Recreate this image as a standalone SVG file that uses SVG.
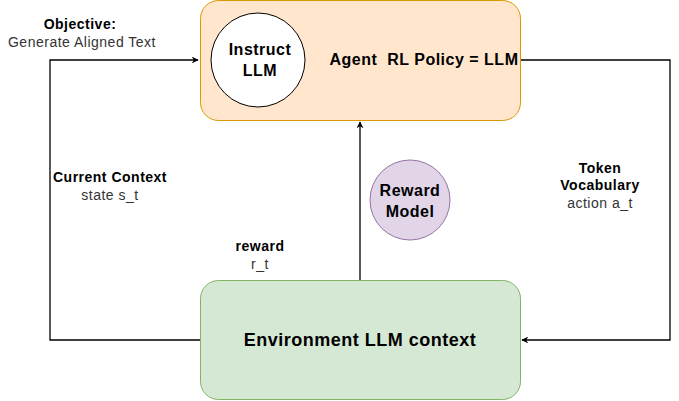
<svg xmlns="http://www.w3.org/2000/svg" width="679" height="401" viewBox="0 0 679 401">
<defs>
<marker id="arr" viewBox="0 0 10 10" refX="9" refY="5" markerWidth="7" markerHeight="7" orient="auto" markerUnits="userSpaceOnUse">
<path d="M0,0 L10,5 L0,10 L3,5 Z" fill="#000"/>
</marker>
<style>
text{font-family:"Liberation Sans",Arial,sans-serif;text-anchor:middle;letter-spacing:0.5px}
.b{font-weight:bold;fill:#000;font-size:14px}
.n{fill:#333;font-size:14px}
.m{font-weight:bold;fill:#000;font-size:16px}
.conn{fill:none;stroke:#000;stroke-width:1.3}
</style>
</defs>
<g id="connectors">
<path class="conn" d="M200,340 L50,340 L50,60 L198,60" marker-end="url(#arr)"/>
<path class="conn" d="M520,60 L670,60 L670,340 L522,340" marker-end="url(#arr)"/>
<path class="conn" d="M360,280 L360,122" marker-end="url(#arr)"/>
</g>
<g id="agent">
<rect x="200.5" y="0.5" width="320" height="120" rx="18" fill="#ffe6cc" stroke="#d79b00"/>
<text class="m" x="424" y="65" xml:space="preserve">Agent  RL Policy = LLM</text>
</g>
<g id="instruct">
<circle cx="258" cy="60" r="47" fill="#fff" stroke="#000"/>
<text class="m" x="260" y="55">Instruct</text>
<text class="m" x="260" y="76">LLM</text>
</g>
<g id="environment">
<rect x="200.5" y="280.5" width="320" height="119" rx="18" fill="#d5e8d4" stroke="#82b366"/>
<text class="m" x="360" y="346" style="font-size:18px">Environment LLM context</text>
</g>
<g id="reward-model">
<circle cx="410" cy="200" r="40" fill="#e1d5e7" stroke="#9673a6"/>
<text class="m" x="410" y="196">Reward</text>
<text class="m" x="410" y="217">Model</text>
</g>
<g id="labels">
<text class="b" x="80" y="29">Objective:</text>
<text class="n" x="82" y="47">Generate Aligned Text</text>
<text class="b" x="110" y="182">Current Context</text>
<text class="n" x="110" y="200">state s_t</text>
<text class="b" x="600" y="173">Token</text>
<text class="b" x="600" y="190">Vocabulary</text>
<text class="n" x="600" y="208">action a_t</text>
<text class="b" x="260" y="251">reward</text>
<text class="n" x="260" y="269">r_t</text>
</g>
</svg>
